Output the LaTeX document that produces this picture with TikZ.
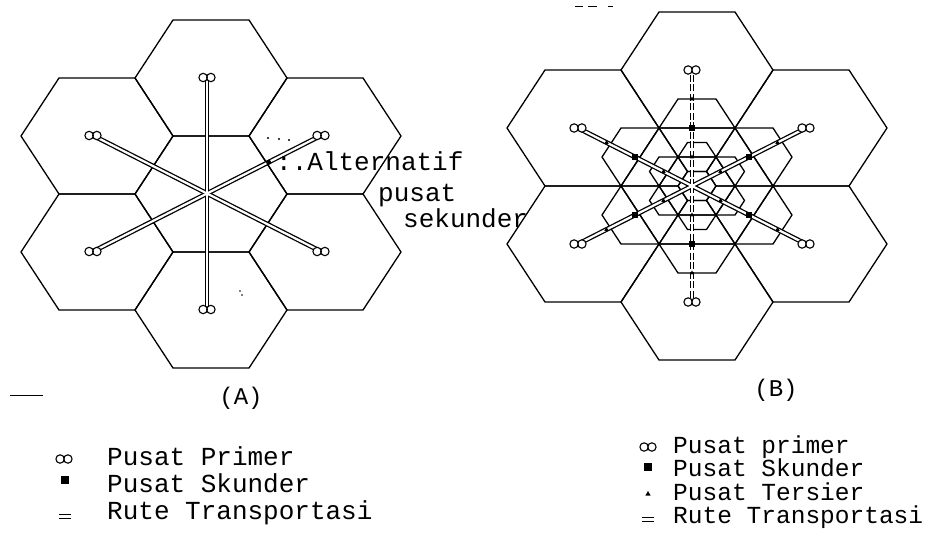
\documentclass[tikz,border=0pt]{standalone}
\usepackage{fontspec}
\setmonofont{Liberation Mono}
\usetikzlibrary{calc,shapes.geometric}
\newcommand\hexcell[3]{%
  \draw[hexline] ({#1-76*#3},{#2}) -- ({#1-38*#3},{#2-58*#3}) -- ({#1+38*#3},{#2-58*#3}) -- ({#1+76*#3},{#2}) -- ({#1+38*#3},{#2+58*#3}) -- ({#1-38*#3},{#2+58*#3}) -- cycle;}
\newcommand\hexcluster[3]{%
  \foreach \dx/\dy in {0/0,0/-116,0/116,-114/-58,-114/58,114/-58,114/58}{%
    \pgfmathsetmacro\hcx{#1+(\dx)*#3}%
    \pgfmathsetmacro\hcy{#2+(\dy)*#3}%
    \hexcell{\hcx}{\hcy}{#3}}}
\begin{document}
\begin{tikzpicture}[x=1pt,y=-1pt,
  hexline/.style={line width=1.3pt, line join=round},
  routeout/.style={line width=4.8pt, black},
  routein/.style={line width=2.2pt, white},
  routedash/.style={line width=4.8pt, black, dash pattern=on 7pt off 2.5pt},
  prim/.pic={\draw[line width=1.1pt, fill=white] (-3.9,0) circle[x radius=4.2pt, y radius=4.2pt] (3.9,0) circle[x radius=4.2pt, y radius=4.2pt];},
  secsq/.style={rectangle, fill=black, minimum size=6pt, inner sep=0pt},
  tersier/.style={regular polygon, regular polygon sides=3, fill=black, minimum size=6pt, inner sep=0pt},
  txt/.style={font=\ttfamily\fontsize{26}{26}\selectfont, inner sep=0pt, anchor=base west},
  txtb/.style={font=\ttfamily\fontsize{24.5}{24.5}\selectfont, inner sep=0pt, anchor=base west},
  lbl/.style={font=\ttfamily\fontsize{24}{24}\selectfont, inner sep=0pt},
  dotm/.style={circle, fill=black, minimum size=2.2pt, inner sep=0pt}]
\useasboundingbox (0,0) rectangle (950,544);
\fill[white] (0,0) rectangle (950,544);

% ---------- (A) ----------
\hexcluster{211}{194}{1}
\coordinate (Ac) at (207,193.5);
\coordinate (Ap1) at (207,77.5);
\coordinate (Ap2) at (321,135.5);
\coordinate (Ap3) at (321,251.5);
\coordinate (Ap4) at (207,309.5);
\coordinate (Ap5) at (93,251.5);
\coordinate (Ap6) at (93,135.5);
\foreach \p in {Ap1,Ap2,Ap3,Ap4,Ap5,Ap6} \draw[routeout] (Ac) -- (\p);
\foreach \p in {Ap1,Ap2,Ap3,Ap4,Ap5,Ap6} \draw[routein] (Ac) -- (\p);
\foreach \p in {Ap1,Ap2,Ap3,Ap4,Ap5,Ap6} \pic at (\p) {prim};
\node[circle, fill=black, minimum size=5pt, inner sep=0pt] (Aalt) at ($(Ac)!0.54!(Ap2)$) {};
\node[dotm] (d1) at (268,138) {};
\node[dotm] (d2) at (279,139) {};
\node[dotm] (d3) at (289,140) {};
\node[txt] (altA) at (276,170) {:.Alternatif};
\node[txt] (altB) at (378,201) {pusat};
\node[txt] (altC) at (403,227) {sekunder};
\node[dotm, minimum size=1.6pt] (art1) at (240,291) {};
\node[dotm, minimum size=1.6pt] (art2) at (242,295) {};
\node[lbl] (labA) at (241,398) {(A)};
\coordinate (mA1) at (10,395);
\coordinate (mA2) at (43,395);
\draw[line width=1pt] (mA1) -- (mA2);

% legend A
\pic at (64,459) {prim};
\node[txt] (lA1) at (107,465) {Pusat Primer};
\node[rectangle, fill=black, minimum size=8pt, inner sep=0pt] (sA) at (65,480) {};
\node[txt] (lA2) at (107,492) {Pusat Skunder};
\coordinate (eqA1) at (59,514); \coordinate (eqA2) at (71,514);
\coordinate (eqA3) at (59,518.5); \coordinate (eqA4) at (71,518.5);
\draw[line width=1pt] (eqA1) -- (eqA2) (eqA3) -- (eqA4);
\node[txt] (lA3) at (107,519) {Rute Transportasi};

% ---------- (B) ----------
\hexcluster{697}{186}{1}
\hexcluster{697}{186}{0.5}
\hexcluster{697}{186}{0.25}
\coordinate (Bc) at (692,186);
\coordinate (Bp1) at (692,70);
\coordinate (Bp2) at (806,128);
\coordinate (Bp3) at (806,244);
\coordinate (Bp4) at (692,302);
\coordinate (Bp5) at (578,244);
\coordinate (Bp6) at (578,128);
\foreach \p in {Bp2,Bp3,Bp5,Bp6} \draw[routeout] (Bc) -- (\p);
\foreach \p in {Bp1,Bp4} \draw[routedash] (Bc) -- (\p);
\foreach \p in {Bp1,Bp2,Bp3,Bp4,Bp5,Bp6} \draw[routein] (Bc) -- (\p);
\foreach \p in {Bp1,Bp2,Bp3,Bp4,Bp5,Bp6} {
  \node[secsq] at ($(Bc)!0.5!(\p)$) {};
  \node[tersier, minimum size=5pt] at ($(Bc)!0.25!(\p)$) {};
  \node[tersier, minimum size=5pt] at ($(Bc)!0.75!(\p)$) {};
}
\foreach \p in {Bp1,Bp2,Bp3,Bp4,Bp5,Bp6} \pic at (\p) {prim};
\node[lbl] (labB) at (776,390) {(B)};
\coordinate (t1) at (575,6); \coordinate (t2) at (583,6);
\coordinate (t3) at (588,6); \coordinate (t4) at (597,6);
\coordinate (t5) at (608,6); \coordinate (t6) at (613,6);
\draw[line width=1pt] (t1) -- (t2) (t3) -- (t4) (t5) -- (t6);

% legend B
\pic at (648,447) {prim};
\node[txtb] (lB1) at (673,453) {Pusat primer};
\node[rectangle, fill=black, minimum size=8pt, inner sep=0pt] (sB) at (648,467) {};
\node[txtb] (lB2) at (673,476.5) {Pusat Skunder};
\node[tersier] (tB) at (648,494) {};
\node[txtb] (lB3) at (673,500) {Pusat Tersier};
\coordinate (eqB1) at (642,517); \coordinate (eqB2) at (654,517);
\coordinate (eqB3) at (642,521); \coordinate (eqB4) at (654,521);
\draw[line width=1pt] (eqB1) -- (eqB2) (eqB3) -- (eqB4);
\node[txtb] (lB4) at (673,523.5) {Rute Transportasi};
\end{tikzpicture}
\end{document}
